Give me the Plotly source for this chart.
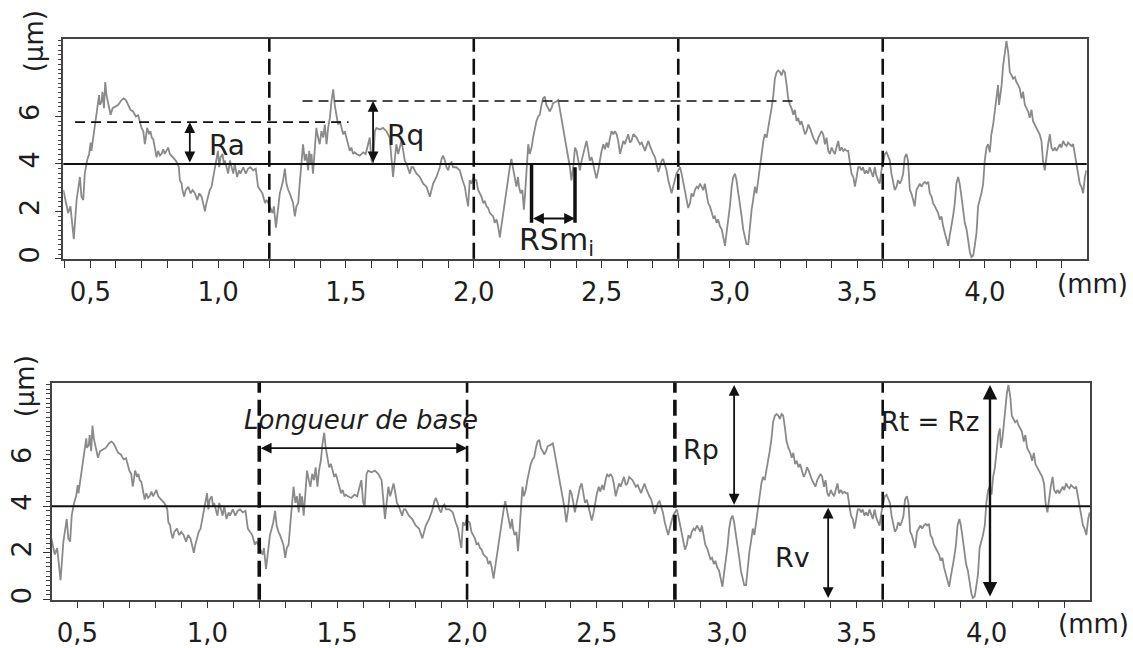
import plotly.graph_objects as go

# ---------------- profile data (mm, µm) ----------------
X_MM = [
    0.394, 0.413, 0.422, 0.426, 0.435, 0.446, 0.452, 0.459, 0.465, 0.472, 0.478, 0.487, 0.495, 0.501, 0.504,
    0.511, 0.521, 0.527, 0.534, 0.537, 0.544, 0.547, 0.553, 0.558, 0.563, 0.571, 0.579, 0.587, 0.596, 0.609,
    0.622, 0.631, 0.639, 0.648, 0.657, 0.667, 0.678, 0.687, 0.694, 0.700, 0.707, 0.713, 0.717, 0.722, 0.730,
    0.735, 0.740, 0.746, 0.752, 0.759, 0.765, 0.772, 0.778, 0.785, 0.791, 0.798, 0.804, 0.811, 0.817, 0.824,
    0.834, 0.841, 0.846, 0.850, 0.857, 0.860, 0.867, 0.873, 0.883, 0.892, 0.900, 0.909, 0.918, 0.926, 0.935,
    0.944, 0.948, 0.954, 0.961, 0.967, 0.974, 0.983, 0.988, 0.993, 0.999, 1.004, 1.009, 1.017, 1.022, 1.026,
    1.033, 1.039, 1.046, 1.052, 1.059, 1.065, 1.074, 1.082, 1.087, 1.098, 1.108, 1.117, 1.126, 1.137, 1.147,
    1.156, 1.163, 1.173, 1.183, 1.189, 1.196, 1.202, 1.213, 1.218, 1.222, 1.226, 1.231, 1.236, 1.241, 1.248,
    1.254, 1.261,
    1.267, 1.274, 1.280, 1.293, 1.300, 1.306, 1.313, 1.319, 1.326, 1.332, 1.339, 1.345, 1.352, 1.356, 1.361,
    1.365, 1.371, 1.378, 1.384, 1.391, 1.397, 1.404, 1.411, 1.417, 1.424, 1.430, 1.437, 1.443, 1.450, 1.456,
    1.463, 1.469, 1.476, 1.482, 1.489, 1.495, 1.502, 1.508, 1.515, 1.521, 1.528, 1.534, 1.541, 1.554, 1.567,
    1.577, 1.583, 1.588, 1.593, 1.600, 1.606, 1.613, 1.619, 1.632, 1.645, 1.658, 1.671, 1.684, 1.697, 1.704,
    1.710, 1.717, 1.724, 1.730, 1.737, 1.750, 1.756, 1.763, 1.776, 1.789, 1.802, 1.815, 1.828, 1.834, 1.841,
    1.854, 1.867, 1.874, 1.880, 1.887, 1.893, 1.900, 1.906, 1.913, 1.919, 1.932, 1.945, 1.956, 1.965, 1.971,
    1.978, 1.984, 1.991, 1.997, 2.010, 2.017, 2.023, 2.030, 2.037, 2.043, 2.050, 2.056, 2.063, 2.076, 2.082,
    2.089, 2.095, 2.102, 2.108, 2.115, 2.121, 2.128, 2.134, 2.141, 2.147, 2.154, 2.160, 2.167, 2.173, 2.177,
    2.183, 2.190, 2.196, 2.200, 2.206, 2.213, 2.219, 2.226, 2.232, 2.239, 2.245, 2.252, 2.258, 2.265, 2.271,
    2.278, 2.284, 2.291, 2.297, 2.304, 2.310, 2.323, 2.330, 2.336, 2.343, 2.349, 2.356, 2.363, 2.369, 2.376,
    2.382,
    2.389, 2.396, 2.402, 2.409, 2.415, 2.422, 2.428, 2.435, 2.441, 2.448, 2.454, 2.461, 2.467, 2.474, 2.480,
    2.487, 2.493, 2.500, 2.507, 2.513, 2.520, 2.526, 2.533, 2.539, 2.546, 2.552, 2.559, 2.565, 2.572, 2.578,
    2.585, 2.591, 2.598, 2.604, 2.611, 2.617, 2.624, 2.630, 2.637, 2.643, 2.650, 2.657, 2.663, 2.670, 2.676,
    2.683, 2.689, 2.696, 2.702, 2.709, 2.715, 2.722, 2.728, 2.735, 2.741, 2.748, 2.754, 2.761, 2.767, 2.774,
    2.780, 2.787, 2.793, 2.800, 2.807, 2.813, 2.820, 2.826, 2.833, 2.839, 2.846, 2.852, 2.859, 2.865, 2.872,
    2.878, 2.885, 2.891, 2.898, 2.904, 2.911, 2.917, 2.924, 2.930, 2.937, 2.943, 2.950, 2.956, 2.963, 2.970,
    2.976, 2.983, 2.989, 2.996, 3.002, 3.009, 3.015, 3.022, 3.028, 3.035, 3.041, 3.048, 3.054, 3.061, 3.067,
    3.074, 3.080, 3.087, 3.093, 3.100, 3.106, 3.113, 3.119, 3.126, 3.133, 3.139, 3.146, 3.152, 3.159, 3.165,
    3.172, 3.178, 3.185, 3.191, 3.198, 3.204, 3.211, 3.217, 3.224, 3.230, 3.237, 3.243, 3.250, 3.256, 3.263,
    3.269, 3.276, 3.282, 3.289, 3.296, 3.302, 3.309, 3.315, 3.322, 3.328, 3.335, 3.341, 3.348, 3.354, 3.361,
    3.367, 3.374, 3.380, 3.387, 3.393, 3.400, 3.406, 3.413, 3.419, 3.426, 3.432, 3.439, 3.446, 3.452, 3.459,
    3.465, 3.472, 3.478, 3.485, 3.491, 3.498, 3.504, 3.511,
    3.517, 3.523, 3.530, 3.536, 3.543, 3.549, 3.556, 3.562, 3.569, 3.575, 3.582, 3.588, 3.595, 3.602, 3.608,
    3.615, 3.621, 3.628, 3.634, 3.641, 3.647, 3.654, 3.660, 3.667, 3.673, 3.680, 3.686, 3.693, 3.699, 3.706,
    3.712, 3.719, 3.725, 3.732, 3.738, 3.745, 3.752, 3.758, 3.765, 3.771, 3.778, 3.784, 3.791, 3.797, 3.804,
    3.810, 3.817, 3.823, 3.830, 3.836, 3.843, 3.849, 3.856, 3.862, 3.869, 3.875, 3.882, 3.888, 3.895, 3.901,
    3.908, 3.915, 3.921, 3.928, 3.934, 3.941, 3.947, 3.954, 3.960, 3.967, 3.973, 3.980, 3.986, 3.993, 3.999,
    4.006, 4.012, 4.019, 4.025, 4.032, 4.038, 4.045, 4.051, 4.055, 4.061, 4.065, 4.071, 4.078, 4.084, 4.091,
    4.097, 4.104, 4.110, 4.117, 4.123, 4.130, 4.136, 4.143, 4.149, 4.156, 4.162, 4.169, 4.175, 4.182, 4.188,
    4.195, 4.201, 4.208, 4.214, 4.221, 4.227, 4.234, 4.241, 4.247, 4.254, 4.260, 4.267, 4.273, 4.280, 4.286,
    4.293, 4.299, 4.306, 4.312, 4.319, 4.325, 4.332, 4.338, 4.345, 4.351, 4.358, 4.364, 4.371, 4.377, 4.384,
    4.391, 4.397,
]

Y_UM = [
    2.90, 1.93, 2.21, 1.79, 0.83, 2.48, 3.04, 3.45, 2.62, 2.48, 3.59, 4.14, 4.42, 4.90, 4.55,
    5.11, 6.07, 6.35, 6.90, 6.49, 6.63, 7.04, 6.35, 7.45, 6.90, 6.49, 6.07, 6.35, 6.42, 6.49,
    6.69, 6.76, 6.69, 6.49, 6.28, 6.21, 6.00, 6.05, 5.80, 5.52, 5.38, 4.83, 5.11, 5.52, 5.25,
    5.38, 5.11, 5.04, 4.69, 4.28, 4.55, 4.35, 4.42, 4.62, 4.42, 4.55, 4.69, 4.42, 4.35, 4.28,
    4.14, 4.00, 3.86, 3.31, 3.17, 2.90, 2.62, 2.90, 3.04, 2.76, 2.90, 2.76, 2.48, 2.76, 2.62,
    2.21, 2.00, 2.35, 2.62, 2.90, 3.04, 3.59, 3.73, 4.14, 4.55, 3.86, 4.28, 4.42, 4.00, 4.14,
    3.86, 3.59, 4.14, 3.86, 3.59, 4.00, 3.45, 3.73, 3.59, 3.86, 3.59, 3.80, 3.86, 3.73, 3.80,
    3.04, 2.90, 2.76, 2.35, 2.48, 2.35, 2.21, 1.93, 2.21, 1.66, 1.31, 1.79, 2.35, 2.76, 3.04,
    3.31, 3.80,
    3.17, 2.90, 2.76, 2.35, 1.79, 2.21, 2.35, 3.17, 4.14, 4.83, 4.14, 4.42, 3.73, 4.55, 4.00,
    4.42, 3.59, 4.69, 5.52, 5.11, 4.83, 5.38, 5.11, 5.66, 4.83, 5.52, 5.94, 6.63, 7.14, 6.49,
    5.94, 5.66, 5.80, 5.52, 5.25, 5.38, 5.11, 4.83, 4.55, 4.69, 4.42, 4.49, 4.42, 4.35, 4.49,
    4.42, 4.69, 4.97, 5.11, 4.14, 4.00, 5.38, 5.52, 5.45, 5.52, 5.38, 5.11, 3.45, 4.83, 4.42,
    4.69, 4.97, 4.55, 4.14, 4.00, 3.59, 3.86, 3.86, 3.59, 3.45, 3.17, 3.04, 2.62, 2.90, 3.17,
    3.45, 3.86, 4.21, 4.35, 4.14, 3.86, 3.73, 4.00, 4.07, 3.86, 3.86, 3.73, 3.31, 3.04, 2.62,
    2.21, 3.31, 3.17, 3.38, 3.31, 2.90, 2.76, 2.62, 2.35, 2.42, 2.21, 2.14, 1.93, 1.79, 1.52,
    1.66, 1.38, 0.90, 1.38, 1.93, 2.35, 2.76, 3.31, 3.86, 4.21, 3.86, 3.45, 3.04, 3.45, 3.04,
    2.76, 2.90, 2.07, 2.62, 3.86, 4.83, 4.42, 4.69, 5.11, 5.52, 5.80, 6.00, 6.07, 6.49, 6.76,
    6.83, 6.49, 6.35, 6.21, 6.35, 6.56, 6.63, 6.69, 6.35, 5.94, 5.52, 5.11, 4.69, 4.28, 3.86,
    3.31,
    3.86, 4.69, 4.55, 4.14, 3.73, 4.14, 4.42, 4.83, 4.97, 4.55, 4.14, 4.28, 4.00, 3.59, 3.38,
    3.73, 4.14, 4.55, 4.83, 4.62, 4.90, 4.69, 5.11, 5.38, 5.25, 5.38, 5.25, 4.97, 4.42, 4.69,
    4.97, 4.83, 5.04, 5.25, 4.90, 4.97, 5.25, 5.18, 5.11, 4.97, 4.83, 4.90, 4.69, 4.55, 4.76,
    4.97, 4.76, 4.55, 4.42, 4.28, 4.00, 3.66, 3.86, 4.14, 4.21, 4.00, 3.73, 3.31, 3.04, 2.76,
    3.04, 3.31, 3.59, 3.73, 3.86, 3.59, 3.17, 2.90, 2.48, 2.14, 2.35, 2.76, 2.62, 2.90, 3.04,
    2.97, 3.17, 3.04, 2.90, 3.17, 2.62, 2.35, 2.21, 1.93, 1.73, 1.79, 1.52, 1.66, 1.38, 1.24,
    0.97, 0.55, 1.10, 1.66, 2.21, 3.04, 3.45, 3.59, 3.31, 2.76, 2.35, 1.79, 1.24, 0.83, 0.62,
    0.62, 1.38, 2.07, 2.48, 3.04, 2.76, 3.31, 4.00, 4.42, 4.97, 5.25, 5.11, 5.52, 5.94, 6.35,
    6.90, 7.59, 7.87, 7.94, 7.87, 7.73, 7.94, 7.87, 7.32, 6.76, 6.49, 6.35, 6.07, 6.28, 5.80,
    5.94, 5.66, 5.80, 5.52, 5.25, 5.38, 5.66, 5.52, 5.25, 5.11, 4.97, 4.83, 5.11, 5.25, 5.38,
    5.25, 4.83, 5.11, 4.55, 4.42, 4.69, 4.55, 4.42, 4.69, 4.97, 4.55, 4.69, 4.55, 4.62, 4.55,
    4.55, 4.00, 3.59, 3.45, 3.04, 3.45, 3.86, 3.86,
    3.73, 3.86, 3.59, 3.73, 3.59, 3.86, 3.59, 3.45, 3.86, 3.52, 3.31, 3.17, 3.73, 4.14, 4.42,
    4.49, 4.28, 4.14, 3.59, 3.17, 2.90, 3.04, 3.31, 3.17, 3.31, 3.59, 4.28, 4.42, 4.14, 2.90,
    2.76, 2.48, 2.21, 2.90, 3.04, 3.17, 3.04, 3.17, 3.24, 3.17, 3.24, 2.76, 2.62, 2.35, 2.21,
    2.07, 1.93, 1.66, 1.79, 1.38, 1.10, 0.83, 0.55, 0.97, 1.38, 1.79, 2.35, 3.17, 3.45, 3.17,
    2.62, 1.93, 1.52, 1.24, 0.69, 0.28, 0.07, 0.14, 0.55, 1.10, 2.21, 2.48, 2.76, 3.17, 4.14,
    4.69, 4.83, 4.49, 5.25, 5.66, 6.21, 7.04, 7.32, 6.49, 6.90, 7.32, 8.14, 8.83, 9.18, 8.70,
    7.87, 7.73, 7.59, 7.66, 7.45, 7.32, 7.18, 6.76, 7.04, 6.49, 6.35, 6.21, 5.94, 6.28, 5.80,
    5.66, 5.52, 5.38, 5.25, 4.97, 4.14, 3.73, 4.42, 4.83, 5.25, 4.69, 4.55, 4.69, 4.55, 4.69,
    4.83, 4.69, 4.97, 4.83, 4.76, 4.90, 4.83, 4.76, 4.83, 4.42, 3.86, 3.59, 3.17, 3.04, 2.76,
    3.45, 3.73,
]

# ---------------- axis / tick data ----------------
X_TICKS = [0.5, 1.0, 1.5, 2.0, 2.5, 3.0, 3.5, 4.0]
X_TICK_TEXT = ["0,5", "1,0", "1,5", "2,0", "2,5", "3,0", "3,5", "4,0"]
Y_TICKS = [0, 2, 4, 6]
Y_TICK_TEXT = ["0", "2", "4", "6"]

# ---------------- annotation values ----------------
MEAN_LINE = 4.0
BASE_BOUNDS = [1.2, 2.0, 2.8, 3.6]
RA_LEVEL = 5.76
RA_SPAN = [0.44, 1.51]
RA_ARROW_X = 0.889
RQ_LEVEL = 6.65
RQ_SPAN = [1.33, 3.26]
RQ_ARROW_X = 1.606
RSM_BAR_X = [2.226, 2.396]
RSM_BAR_TOP = [4.0, 3.86]
RSM_BAR_BOTTOM = 1.52
RSM_ARROW_Y = 1.70
BASE_ARROW_Y = 6.48
RP_ARROW_X = 3.028
RV_ARROW_X = 3.390
RT_ARROW_X = 4.013

FONT = "DejaVu Sans, Liberation Sans, Arial"
TXT = "#1e1e1e"
W, H = 1133, 648


def dom_x(a, b):
    return [a / W, b / W]


def dom_y(top, bottom):
    return [1 - bottom / H, 1 - top / H]


fig = go.Figure()
for xa, ya in (("x", "y"), ("x2", "y2")):
    fig.add_trace(go.Scatter(x=X_MM, y=Y_UM, mode="lines", xaxis=xa, yaxis=ya,
                             line=dict(color="#8a8a8a", width=1.8), hoverinfo="skip",
                             showlegend=False))


def xaxis_cfg(domain, rng, anchor):
    return dict(domain=domain, range=rng, anchor=anchor, tickmode="array", tickvals=X_TICKS,
                ticktext=X_TICK_TEXT, ticks="outside", ticklen=7, tickwidth=1.4, tickcolor="#333",
                minor=dict(tickmode="linear", tick0=0, dtick=0.1, ticks="outside", ticklen=7,
                           tickwidth=1.4, tickcolor="#333"),
                showline=True, linecolor="#444", linewidth=1.5, mirror=True,
                showgrid=False, zeroline=False, ticklabelstandoff=2,
                tickfont=dict(family=FONT, size=26, color=TXT))


def yaxis_cfg(domain, anchor, standoff):
    return dict(domain=domain, range=[0, 9.28], anchor=anchor, tickmode="array", tickvals=Y_TICKS,
                ticktext=Y_TICK_TEXT, tickangle=-90, ticks="outside", ticklen=7, tickwidth=1.4,
                tickcolor="#333",
                minor=dict(tickmode="linear", tick0=0, dtick=0.2, ticks="outside", ticklen=4,
                           tickwidth=1.2, tickcolor="#444"),
                showline=True, linecolor="#444", linewidth=1.5, mirror=True,
                showgrid=False, zeroline=False, ticklabelstandoff=standoff,
                tickfont=dict(family=FONT, size=27, color=TXT))


shapes = []
annotations = []


def hline(xref, yref, y, x0=0, x1=1, dom=True, width=2, dash="solid", color="#111"):
    shapes.append(dict(type="line", xref=(xref + " domain") if dom else xref, yref=yref,
                       x0=x0, x1=x1, y0=y, y1=y, line=dict(color=color, width=width, dash=dash)))


def vline(xref, yref, x, y0=0, y1=1, dom=True, width=2, dash="solid", color="#111"):
    shapes.append(dict(type="line", xref=xref, yref=(yref + " domain") if dom else yref,
                       x0=x, x1=x, y0=y0, y1=y1, line=dict(color=color, width=width, dash=dash)))


def arrow(xref, yref, x0, y0, x1, y1, width=1.8, size=1.2):
    annotations.append(dict(x=x1, y=y1, ax=x0, ay=y0, xref=xref, yref=yref, axref=xref, ayref=yref,
                            text="", showarrow=True, arrowhead=2, arrowside="end+start",
                            arrowsize=size, arrowwidth=width, arrowcolor="#111", standoff=0,
                            startstandoff=0))


def label(xref, yref, x, y, text, size, italic=False):
    annotations.append(dict(x=x, y=y, xref=xref, yref=yref, text=text, showarrow=False,
                            xanchor="left", yanchor="middle",
                            font=dict(family=FONT, size=size, color=TXT,
                                      style="italic" if italic else "normal")))


# ---------- top panel ----------
hline("x", "y", MEAN_LINE, width=2)
for bx in BASE_BOUNDS:
    vline("x", "y", bx, width=2.6, dash="16px,7px")
hline("x", "y", RA_LEVEL, RA_SPAN[0], RA_SPAN[1], dom=False, width=1.6, dash="10px,6px")
hline("x", "y", RQ_LEVEL, RQ_SPAN[0], RQ_SPAN[1], dom=False, width=1.6, dash="10px,6px")
arrow("x", "y", RA_ARROW_X, MEAN_LINE, RA_ARROW_X, RA_LEVEL)
arrow("x", "y", RQ_ARROW_X, MEAN_LINE, RQ_ARROW_X, RQ_LEVEL)
for bx, top in zip(RSM_BAR_X, RSM_BAR_TOP):
    vline("x", "y", bx, RSM_BAR_BOTTOM, top, dom=False, width=3.5)
arrow("x", "y", RSM_BAR_X[0], RSM_ARROW_Y, RSM_BAR_X[1], RSM_ARROW_Y)
label("x", "y", 0.955, 4.76, "Ra", 28)
label("x", "y", 1.652, 5.18, "Rq", 28)
label("x", "y", 2.168, 0.72, "RSm<sub>i</sub>", 30)

# ---------- bottom panel ----------
hline("x2", "y2", MEAN_LINE, width=2)
for bx, wd in zip(BASE_BOUNDS, [3.6, 2.6, 3.6, 2.6]):
    vline("x2", "y2", bx, width=wd, dash="16px,7px")
arrow("x2", "y2", BASE_BOUNDS[0], BASE_ARROW_Y, BASE_BOUNDS[1], BASE_ARROW_Y)
peak = max(Y_UM)
valley = min(Y_UM)
arrow("x2", "y2", RP_ARROW_X, MEAN_LINE, RP_ARROW_X, peak)
arrow("x2", "y2", RV_ARROW_X, MEAN_LINE, RV_ARROW_X, valley)
arrow("x2", "y2", RT_ARROW_X, valley, RT_ARROW_X, peak, width=2.4)
label("x2", "y2", 1.132, 7.68, "Longueur de base", 26, italic=True)
label("x2", "y2", 2.822, 6.44, "Rp", 27)
label("x2", "y2", 3.176, 1.82, "Rv", 27)
label("x2", "y2", 3.586, 7.58, "Rt = Rz", 26)

# ---------- unit labels ----------
for (px, py, t, ang) in [(34, 42, "(µm)", -90), (25, 393, "(µm)", -90),
                         (1092, 289, "(mm)", 0), (1093, 635, "(mm)", 0)]:
    annotations.append(dict(x=px / W, y=1 - py / H, xref="paper", yref="paper", text=t,
                            showarrow=False, xanchor="center", yanchor="middle", textangle=ang,
                            font=dict(family=FONT, size=26, color=TXT)))

fig.update_layout(
    width=W, height=H, margin=dict(l=0, r=0, t=0, b=0),
    paper_bgcolor="white", plot_bgcolor="white", showlegend=False,
    xaxis=xaxis_cfg(dom_x(63.3, 1086.7), [0.394, 4.398], "y"),
    yaxis=yaxis_cfg(dom_y(39.3, 263.3), "x", 5),
    xaxis2=xaxis_cfg(dom_x(51.7, 1090.0), [0.401, 4.398], "y2"),
    yaxis2=yaxis_cfg(dom_y(389.3, 610.0), "x2", 1),
    shapes=shapes, annotations=annotations,
)

fig.write_html("out.html")
